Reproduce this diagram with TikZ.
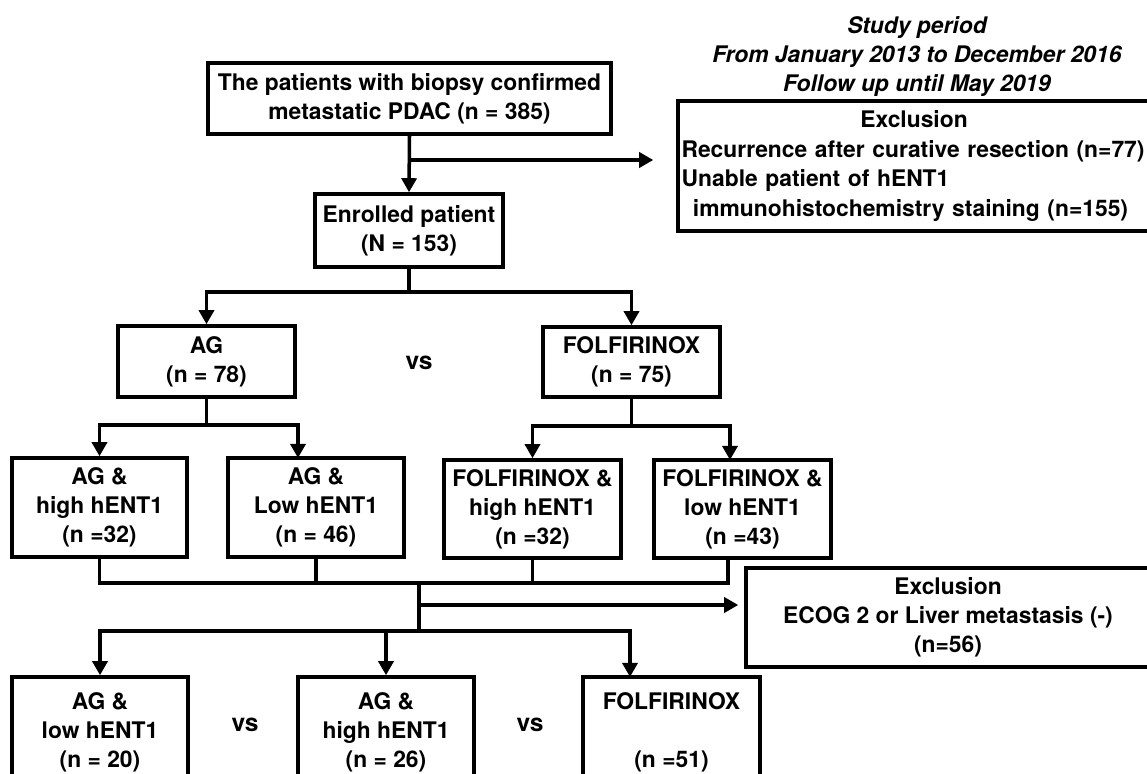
\documentclass[tikz,border=0pt]{standalone}
\usepackage{fontspec}
\setmainfont{TeX Gyre Heros}
\usetikzlibrary{arrows.meta,positioning}
\tikzset{
    %Define standard arrow tip
    >={Triangle[length=8pt,width=8.5pt]},
    %Define style for boxes
    group/.style={
      rectangle,
      draw=black, line width=2pt,
      inner sep=2pt,
      align=center,
      font=\fontsize{13}{16.5}\selectfont\bfseries},
    % Define style for free text
    note/.style={
      align=center,
      font=\fontsize{13}{16.5}\selectfont\bfseries},
    % Define arrow style
    arr/.style={
      ->,
      line width=2pt},
    % Define plain line style
    lin/.style={
      line width=2pt}
}

\begin{document}
\begin{tikzpicture}[x=0.02cm, y=-0.02cm]
    \clip (0,0) rectangle (1147,774);

    \node[note, font=\fontsize{13}{16.5}\selectfont\bfseries\itshape] (period) at (917,57)
      {Study period\\From January 2013 to December 2016\\Follow up until May 2019};

    \node[group, minimum width=8.06cm, minimum height=1.42cm] (total) at (409.5,98.5)
      {The patients with biopsy confirmed\\metastatic PDAC (n = 385)};
    \node[group, minimum width=3.76cm, minimum height=1.46cm] (enrolled) at (409,230.5)
      {Enrolled patient\\(N = 153)};
    \node[group, minimum width=9.44cm, minimum height=2.6cm, align=left,
      text width=9.3cm, inner xsep=0.07cm,
      font=\fontsize{13}{17}\selectfont\bfseries] (excl1) at (914,166)
      {\makebox[\linewidth]{Exclusion}\\
       Recurrence after curative resection (n=77)\\
       Unable patient of hENT1\\
       \hspace*{0.5em}immunohistochemistry staining (n=155)};

    \node[group, minimum width=3.54cm, minimum height=1.42cm] (ag) at (206.5,361.5)
      {AG\\(n = 78)};
    \node[note, font=\fontsize{14}{16.5}\selectfont\bfseries] (vs1) at (419,363) {vs};
    \node[group, minimum width=3.54cm, minimum height=1.4cm] (folf) at (631.5,362)
      {FOLFIRINOX\\(n = 75)};

    \node[group, minimum width=3.5cm, minimum height=1.98cm] (aghigh) at (99.5,507.5)
      {AG \&\\high hENT1\\(n =32)};
    \node[group, minimum width=3.52cm, minimum height=1.98cm] (aglow) at (316,507.5)
      {AG \&\\Low hENT1\\(n = 46)};
    \node[group, minimum width=3.54cm, minimum height=1.96cm] (folfhigh) at (532.5,509)
      {FOLFIRINOX \&\\high hENT1\\(n =32)};
    \node[group, minimum width=3.54cm, minimum height=1.96cm] (folflow) at (742.5,509)
      {FOLFIRINOX \&\\low hENT1\\(n =43)};

    \node[group, minimum width=8.08cm, minimum height=1.98cm] (excl2) at (948,617.5)
      {Exclusion\\ECOG 2 or Liver metastasis (-)\\(n=56)};

    \node[group, minimum width=3.52cm, minimum height=2.2cm] (sublow) at (100,732)
      {AG \&\\low hENT1\\(n = 20)};
    \node[note, font=\fontsize{14}{16.5}\selectfont\bfseries] (vs2) at (245,725) {vs};
    \node[group, minimum width=3.52cm, minimum height=2.2cm] (subhigh) at (386,732)
      {AG \&\\high hENT1\\(n = 26)};
    \node[note, font=\fontsize{14}{16.5}\selectfont\bfseries] (vs3) at (530,725) {vs};
    \node[group, minimum width=3.54cm, minimum height=2.2cm] (subfolf) at (671.5,732)
      {FOLFIRINOX\\~\\(n =51)};

    % screening
    \draw[arr] (total.south) -- (enrolled.north);
    \coordinate (split1) at (410,160);
    \draw[arr, shorten >=0.46cm] (split1) -- (split1 -| excl1.west);

    % randomisation by regimen
    \draw[lin] (enrolled.south) -- ++(0,23) coordinate (split2);
    \draw[arr] (split2) -| (ag.north);
    \draw[arr] (split2) -| (folf.north);

    % hENT1 subgroups
    \coordinate (aglowin) at (298,458);
    \coordinate (folflowin) at (730,460);
    \draw[lin] (ag.south) -- ++(0,26) coordinate (split3);
    \draw[arr] (split3) -| (aghigh.north);
    \draw[arr] (split3) -| (aglowin);
    \draw[lin] (folf.south) -- ++(0,27) coordinate (split4);
    \draw[arr] (split4) -| (folfhigh.north);
    \draw[arr] (split4) -| (folflowin);

    % merge and second exclusion
    \coordinate (folflowout) at (728,558);
    \coordinate (merge) at (419,581);
    \draw[lin] (aghigh.south) -- ++(0,24) -| (folflowout);
    \draw[lin] (aglow.south) -- ++(0,24);
    \draw[lin] (folfhigh.south) -- ++(0,23);
    \draw[lin] (merge) -- ++(0,50) coordinate (split5);
    \path (merge) ++(0,24) coordinate (split6);
    \draw[arr, shorten >=0.12cm] (split6) -- (split6 -| excl2.west);

    % final comparison
    \coordinate (subfolfin) at (630,677);
    \draw[arr] (split5) -| (sublow.north);
    \draw[arr] (split5) -| (subhigh.north);
    \draw[arr] (split5) -| (subfolfin);
\end{tikzpicture}
\end{document}
